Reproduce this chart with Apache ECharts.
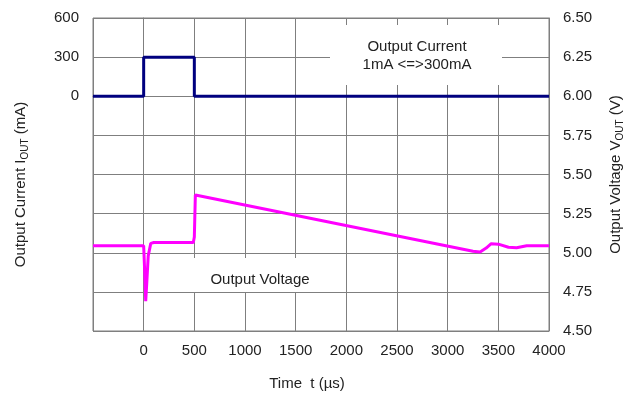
<!DOCTYPE html>
<html>
<head>
<meta charset="utf-8">
<script src="https://cdn.jsdelivr.net/npm/echarts@6/dist/echarts.min.js"></script>
<style>
  html, body { margin: 0; padding: 0; background: #fff; }
  #chart { width: 637px; height: 396px; }
</style>
</head>
<body>
<div id="chart"></div>
<script>
// time ticks (us)
var timeMin = -500, timeMax = 4000, timeStep = 500;
// output current (mA) : [time, value]
var currentData = [[-500, 0], [0, 0], [0, 300], [500, 300], [500, 0], [4000, 0]];
// output voltage (V) : [time, value]
var voltageData = [
    [-500, 5.045], [0, 5.045], [12, 4.85], [20, 4.69], [30, 4.8], [45, 4.98],
    [70, 5.06], [100, 5.065], [490, 5.065], [500, 5.1], [510, 5.369], [520, 5.365],
    [3250, 5.01], [3320, 5.005], [3380, 5.03], [3430, 5.058], [3500, 5.055],
    [3600, 5.035], [3680, 5.032], [3780, 5.045], [4000, 5.045]
];

var chart = echarts.init(document.getElementById('chart'));
var font = 'Liberation Sans, Arial, sans-serif';
var gridColor = '#7f7f7f';
var txt = '#222';

chart.setOption({
    animation: false,
    textStyle: { fontFamily: font },
    grid: { left: 93, right: 88, top: 18, bottom: 65, show: true, borderColor: gridColor, borderWidth: 1 },
    xAxis: {
        type: 'value', min: timeMin, max: timeMax, interval: timeStep,
        name: 'Time  t (µs)', nameLocation: 'middle', nameGap: 45,
        nameTextStyle: { fontSize: 15, color: txt, padding: [0, 28, 0, 0] },
        axisLine: { lineStyle: { color: gridColor } },
        axisTick: { show: false },
        axisLabel: { fontSize: 15, color: txt, margin: 12,
            formatter: function (v) { return v < 0 ? '' : v; } },
        splitLine: { lineStyle: { color: gridColor, width: 1 } }
    },
    yAxis: [
        {
            type: 'value', min: -1800, max: 600, interval: 300,
            name: 'Output Current I{sub|OUT} (mA)', nameLocation: 'middle', nameGap: 63,
            nameTextStyle: { fontSize: 15, color: txt, padding: [0, 20, 0, 0],
                rich: { sub: { fontSize: 10, padding: [8, 0, 0, 0] } } },
            axisLine: { show: true, lineStyle: { color: gridColor } },
            axisTick: { show: false },
            axisLabel: { fontSize: 15, color: txt, margin: 14,
                formatter: function (v) { return v >= 0 ? v : ''; } },
            splitLine: { lineStyle: { color: gridColor, width: 1 } }
        },
        {
            type: 'value', min: 4.5, max: 6.5, interval: 0.25,
            name: 'Output Voltage V{sub|OUT} (V)', nameLocation: 'middle', nameGap: 58,
            nameTextStyle: { fontSize: 15, color: txt,
                rich: { sub: { fontSize: 10, padding: [8, 0, 0, 0] } } },
            axisLine: { show: true, lineStyle: { color: gridColor } },
            axisTick: { show: false },
            axisLabel: { fontSize: 15, color: txt, margin: 14,
                formatter: function (v) { return v.toFixed(2); } },
            splitLine: { show: false }
        }
    ],
    graphic: [
        { type: 'rect', z: 1, shape: { x: 330, y: 25, width: 172, height: 60 }, style: { fill: '#fff' } },
        { type: 'text', z: 3, x: 417, y: 56, style: { text: 'Output Current\n1mA <=>300mA',
            font: '15px ' + font, fill: txt, align: 'center', verticalAlign: 'middle', lineHeight: 18 } },
        { type: 'rect', z: 1, shape: { x: 175, y: 258, width: 171, height: 34 }, style: { fill: '#fff' } },
        { type: 'text', z: 3, x: 260, y: 280, style: { text: 'Output Voltage',
            font: '15px ' + font, fill: txt, align: 'center', verticalAlign: 'middle' } }
    ],
    series: [
        {
            name: 'Output Current', type: 'line', yAxisIndex: 0, data: currentData,
            showSymbol: false, lineStyle: { color: '#00007f', width: 3 }, z: 3
        },
        {
            name: 'Output Voltage', type: 'line', yAxisIndex: 1, data: voltageData,
            showSymbol: false, lineStyle: { color: '#ff00ff', width: 3 }, z: 3
        }
    ]
});
</script>
</body>
</html>
